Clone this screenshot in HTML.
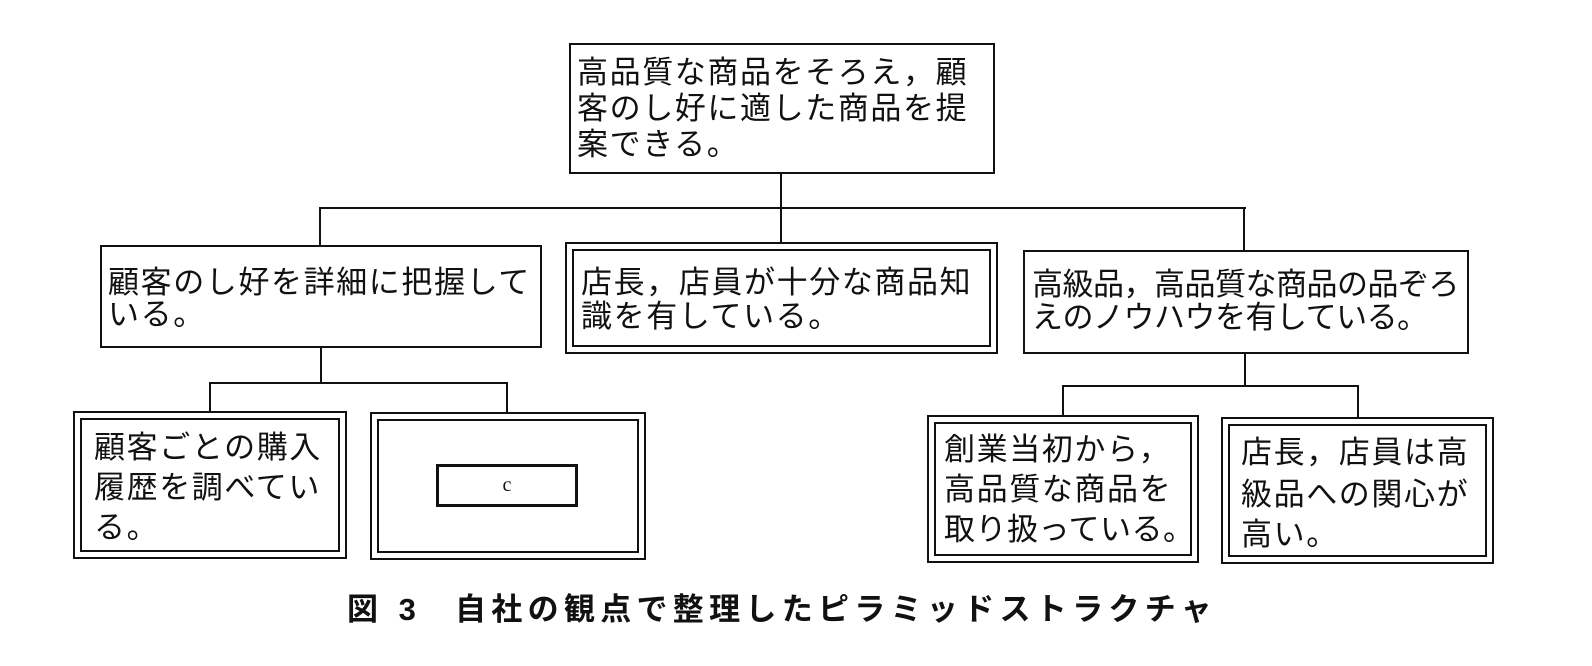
<!DOCTYPE html>
<html><head><meta charset="utf-8"><style>
body{margin:0;background:#fff;width:1592px;height:666px;position:relative;overflow:hidden;font-family:"Liberation Sans","Noto Sans CJK JP",sans-serif;color:#111}
.b{position:absolute;border:2px solid #111;box-sizing:border-box}
.in{position:absolute;left:5px;top:5px;right:5px;bottom:5px;border:2px solid #111}
.h{position:absolute;height:2px;background:#111}
.v{position:absolute;width:2px;background:#111}
.t{position:absolute;font-size:31px;letter-spacing:1.6px;white-space:nowrap;line-height:34px;font-weight:400}
.cap{position:absolute;font-family:"Liberation Sans","Noto Sans CJK JP",sans-serif;font-weight:bold;font-size:31px;white-space:nowrap;line-height:36px}
</style></head><body>
<div class="v" style="left:780px;top:173px;height:36px"></div>
<div class="h" style="left:319px;top:207px;width:927px"></div>
<div class="v" style="left:319px;top:207px;height:39px"></div>
<div class="v" style="left:780px;top:207px;height:36px"></div>
<div class="v" style="left:1243px;top:208px;height:43px"></div>
<div class="v" style="left:320px;top:347px;height:37px"></div>
<div class="h" style="left:209px;top:382px;width:299px"></div>
<div class="v" style="left:209px;top:382px;height:30px"></div>
<div class="v" style="left:506px;top:382px;height:30px"></div>
<div class="v" style="left:1244px;top:353px;height:34px"></div>
<div class="h" style="left:1062px;top:385px;width:297px"></div>
<div class="v" style="left:1062px;top:385px;height:31px"></div>
<div class="v" style="left:1357px;top:385px;height:33px"></div>

<div class="b" style="left:569px;top:43px;width:426px;height:131px"></div>
<div class="t" style="left:577px;top:56px">高品質な商品をそろえ，顧</div>
<div class="t" style="left:577px;top:92px">客のし好に適した商品を提</div>
<div class="t" style="left:577px;top:128px">案できる。</div>

<div class="b" style="left:100px;top:245px;width:442px;height:103px"></div>
<div class="t" style="left:108px;top:266px">顧客のし好を詳細に把握して</div>
<div class="t" style="left:108px;top:298px">いる。</div>

<div class="b" style="left:565px;top:242px;width:433px;height:112px"><div class="in"></div></div>
<div class="t" style="left:581px;top:266px">店長，店員が十分な商品知</div>
<div class="t" style="left:581px;top:300px">識を有している。</div>

<div class="b" style="left:1023px;top:250px;width:446px;height:104px"></div>
<div class="t" style="left:1032px;top:268px;letter-spacing:-0.5px">高級品，高品質な商品の品ぞろ</div>
<div class="t" style="left:1032px;top:301px;letter-spacing:-0.5px">えのノウハウを有している。</div>

<div class="b" style="left:73px;top:411px;width:274px;height:148px"><div class="in"></div></div>
<div class="t" style="left:94px;top:431px">顧客ごとの購入</div>
<div class="t" style="left:94px;top:471px">履歴を調べてい</div>
<div class="t" style="left:94px;top:511px">る。</div>

<div class="b" style="left:370px;top:412px;width:276px;height:148px"><div class="in"></div></div>
<div class="b" style="left:436px;top:464px;width:142px;height:43px;border-width:3px"></div>
<div style="position:absolute;left:436px;top:464px;width:142px;height:43px;line-height:43px;text-align:center;font-size:20px;font-family:'Liberation Serif',serif">c</div>

<div class="b" style="left:927px;top:415px;width:272px;height:148px"><div class="in"></div></div>
<div class="t" style="left:944px;top:433px">創業当初から，</div>
<div class="t" style="left:944px;top:473px">高品質な商品を</div>
<div class="t" style="left:944px;top:513px;letter-spacing:0.5px">取り扱っている。</div>

<div class="b" style="left:1221px;top:417px;width:273px;height:147px"><div class="in"></div></div>
<div class="t" style="left:1241px;top:436px">店長，店員は高</div>
<div class="t" style="left:1241px;top:478px">級品への関心が</div>
<div class="t" style="left:1241px;top:518px">高い。</div>

<div class="cap" style="left:347px;top:592px;letter-spacing:6px">図 3</div>
<div class="cap" style="left:455px;top:592px;letter-spacing:5.3px">自社の観点で整理したピラミッドストラクチャ</div>
</body></html>
